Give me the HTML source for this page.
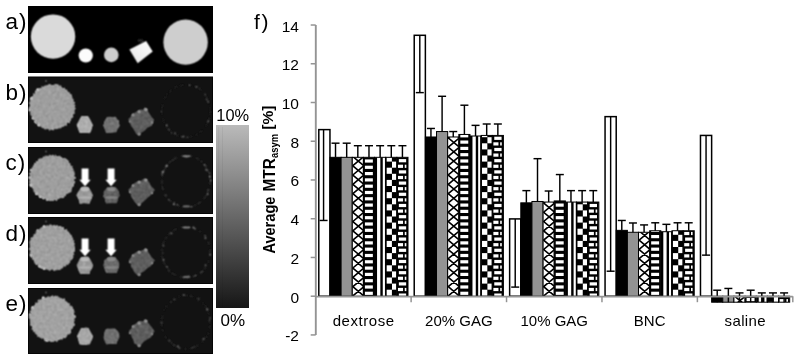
<!DOCTYPE html>
<html><head><meta charset="utf-8"><style>
html,body{margin:0;padding:0;background:#fff;}
body{width:800px;height:361px;overflow:hidden;position:relative;}
svg{position:absolute;left:0;top:0;will-change:transform;font-family:"Liberation Sans",sans-serif;}
</style></head><body>
<svg width="800" height="361" viewBox="0 0 800 361">
<defs>
<filter id="bl" x="-10%" y="-10%" width="120%" height="120%"><feConvolveMatrix order="3" kernelMatrix="1 2 1 2 4 2 1 2 1" divisor="16" edgeMode="none"/></filter><filter id="bl2" x="-20%" y="-20%" width="140%" height="140%"><feConvolveMatrix order="3" kernelMatrix="1 2 1 2 4 2 1 2 1" divisor="16" edgeMode="none"/></filter><filter id="bla" x="-10%" y="-10%" width="120%" height="120%"><feConvolveMatrix order="3" kernelMatrix="1 2 1 2 4 2 1 2 1" divisor="16" edgeMode="none"/></filter>
<linearGradient id="trg" x1="0" y1="1" x2="1" y2="0"><stop offset="0" stop-color="#e6e6e6"/><stop offset="1" stop-color="#ffffff"/></linearGradient><linearGradient id="cbg" x1="0" y1="0" x2="0" y2="1">
<stop offset="0" stop-color="#bababa"/><stop offset="1" stop-color="#161616"/>
</linearGradient>
<filter id="tex" x="-5%" y="-5%" width="110%" height="110%" color-interpolation-filters="sRGB">
<feTurbulence type="fractalNoise" baseFrequency="0.35" numOctaves="2" seed="5" result="n"/>
<feColorMatrix in="n" type="matrix" values="0.33 0.33 0.33 0 0 0.33 0.33 0.33 0 0 0.33 0.33 0.33 0 0 0 0 0 0 1" result="g"/>
<feComposite in="SourceGraphic" in2="g" operator="arithmetic" k1="0" k2="1" k3="0.3" k4="-0.15" result="m"/>
<feComposite in="m" in2="SourceGraphic" operator="in" result="c"/>
<feConvolveMatrix in="c" order="3" kernelMatrix="1 2 1 2 4 2 1 2 1" divisor="16" edgeMode="none"/>
</filter>
</defs>
<rect x="28" y="6" width="185" height="67" fill="#000"/><g filter="url(#bla)"><circle cx="53.05" cy="36.6" r="22.2" fill="#dadada"/><circle cx="85.75" cy="55.5" r="7.1" fill="#fcfcfc"/><circle cx="111.3" cy="54.9" r="7.3" fill="#cccccc"/><ellipse cx="140.5" cy="40.5" rx="3" ry="1.2" fill="#2a2a2a"/><polygon points="129.4,49.4 146.1,41.1 152.7,51.6 137.7,63.3" fill="url(#trg)"/><ellipse cx="185.6" cy="42.15" rx="22.2" ry="22.7" fill="#cecece"/></g><rect x="28" y="76.5" width="185" height="66.5" fill="#050505"/><rect x="29" y="77.5" width="183" height="64.5" fill="#121212"/><g filter="url(#bl)"><ellipse cx="186" cy="110.9" rx="24.2" ry="26.3" fill="none" stroke="#1b1b1b" stroke-width="1.5" stroke-dasharray="3.5 3 3.52 2.22 4.35 4.38 3.79 2.06 3.32 2.65 2.37 4.83 4.99 1.66 4.51 3.61 2.84 2.49 3.86 3.1 3.9 3.82 1.97 4.19 4.94 4.89 3.65 1.65 1.51 1.97"/><circle cx="207.97" cy="101.62" r="1.06" fill="#474747"/><circle cx="187.5" cy="137.24" r="0.86" fill="#4c4c4c"/><circle cx="208.14" cy="121.31" r="0.9" fill="#666666"/><circle cx="199.61" cy="88.28" r="0.62" fill="#3f3f3f"/><circle cx="161.43" cy="111.47" r="0.64" fill="#5a5a5a"/><circle cx="206.58" cy="99.38" r="0.94" fill="#484848"/><circle cx="169.01" cy="129.56" r="1.18" fill="#373737"/><circle cx="189.45" cy="85.26" r="0.71" fill="#636363"/><circle cx="171.55" cy="132.9" r="0.75" fill="#4c4c4c"/><circle cx="182.26" cy="136.87" r="1.12" fill="#3b3b3b"/><circle cx="183.48" cy="136.38" r="0.99" fill="#5a5a5a"/><circle cx="196.58" cy="86.89" r="1.06" fill="#4e4e4e"/><circle cx="174.97" cy="133.35" r="1.03" fill="#525252"/><circle cx="174.41" cy="133.25" r="0.76" fill="#353535"/><circle cx="166.75" cy="125.16" r="0.9" fill="#676767"/><circle cx="205.15" cy="94.44" r="0.91" fill="#414141"/><circle cx="46" cy="81" r="1" fill="#555"/></g><g filter="url(#tex)"><polygon points="74.57,107.1 75.97,108.09 75.75,109.07 74.63,109.92 74.97,110.93 74.7,111.86 74.87,112.9 74.87,113.91 73.25,114.4 72.81,115.22 73.93,116.73 72.78,117.27 72.91,118.43 71.12,118.5 71.37,119.77 71.27,120.88 69.9,121.05 70.39,122.71 69.65,123.39 67.74,122.86 67.05,123.49 67.01,124.89 66.74,126.12 65.29,125.79 64.32,126.04 63.72,126.88 62.52,126.65 61.86,127.41 61.16,128.19 60.31,128.65 59.24,128.47 58.34,128.73 57.42,128.94 56.59,129.61 55.6,129.44 54.6,129.02 53.79,130.73 52.78,130.21 51.81,130.38 50.9,129.43 49.79,130.95 48.83,130.57 48.13,128.95 47.12,129.17 46,129.68 45.06,129.38 43.98,129.48 43.45,128.16 42.23,128.51 41.49,127.78 41,126.68 39.88,126.67 38.74,126.61 37.98,125.97 37.63,124.83 36.79,124.32 36.86,122.87 35.91,122.49 34.44,122.52 34.41,121.28 34.22,120.23 33.06,119.88 32.28,119.22 31.84,118.35 31.92,117.22 31.4,116.41 30.9,115.57 30.05,114.85 30.24,113.76 30.23,112.77 29.82,111.88 30.55,110.78 30.39,109.87 28.98,109.06 28.35,108.1 29.11,107.1 29.53,106.15 30.04,105.23 29.48,104.22 28.67,103.1 29.27,102.21 29.95,101.36 29.59,100.24 31.09,99.71 30.89,98.62 30.46,97.38 31.56,96.8 32.22,96.06 33.02,95.42 33.06,94.32 32.95,93.04 35.05,93.43 34.46,91.7 35.07,90.92 35.67,90.12 36.59,89.65 37.25,88.9 38.37,88.75 39.1,88.11 40.06,87.81 41.24,87.95 41.3,86.06 42.45,86.16 43.62,86.45 44.28,85.53 45.2,85.25 46.19,85.22 47.12,85.01 47.98,84.43 48.9,84.1 49.87,84 50.86,84.23 51.84,85.05 52.77,84.65 53.7,84.79 54.72,84.06 55.77,83.63 56.72,83.92 57.69,84.13 58.66,84.34 59.26,85.69 60.56,84.9 61.35,85.58 61.74,87.04 62.51,87.57 63.31,88.02 64.9,87.25 65.14,88.62 65.73,89.4 67.12,89.19 67.48,90.24 67.79,91.28 68.57,91.82 69.75,92.04 69.8,93.23 70.54,93.85 71.81,94.14 71.9,95.23 72.14,96.19 72.85,96.9 72.44,98.13 73.47,98.72 73.87,99.59 73.72,100.63 73.82,101.57 75.58,102.15 75,103.26 74.54,104.29 75.43,105.16 75.91,106.11" fill="#9e9e9e"/><polygon points="81.26,116.05 84.04,115.97 86.11,116.07 88.25,116.01 90.27,119.13 91.51,121.64 93.17,124.95 92.45,127.23 91.49,130.87 90.02,133.49 86.29,133.01 83.26,133.05 79.65,133.19 78.32,130.47 77.45,127.87 76.32,124.81 77.97,121.93 79.6,118.72" fill="#aeaeae"/><polygon points="106.83,116.65 110.01,116.48 112.47,116.73 115.75,116.51 116.64,117.69 117.37,119.2 118.97,120.36 119.4,121.99 119.22,123.33 120.1,125.39 118.93,127.86 117.19,130.2 116.5,132.59 113.39,132.79 109.29,133.15 105.8,133.24 105.06,130.54 103.97,128.09 102.85,125.33 103.66,123.82 103.86,122.13 104.28,121.02 105.17,119.51 106.1,118.08" fill="#727272"/><polygon points="128.01,119.03 130.42,116.92 132.07,113.43 135.23,112.26 138.18,110.29 140.64,109.31 142.34,109.44 143.7,109 144.81,106.72 147.48,109.38 148.24,111.5 151.49,116.4 154.35,119.66 153.1,122.81 151.84,125.91 147.53,127.64 144.5,131.09 140.79,133.28 139.04,135.68 136.06,133.91 134.48,131.23 132.97,128.51 130.85,125.9 129.8,122.68" fill="#5e5e5e"/></g><g filter="url(#bl)"><circle cx="133.1" cy="115.2" r="1.4" fill="#8e8e8e"/><circle cx="139.2" cy="111.8" r="1.6" fill="#969696"/><circle cx="145.9" cy="109.6" r="1.7" fill="#9a9a9a"/><circle cx="139.2" cy="134.1" r="1.6" fill="#8a8a8a"/><circle cx="152" cy="122.5" r="1.2" fill="#888"/><circle cx="130" cy="121.5" r="1.2" fill="#858585"/><circle cx="38.64" cy="125.1" r="1.3" fill="#c4c4c4"/><circle cx="32.69" cy="118.34" r="1.02" fill="#c4c4c4"/><circle cx="29.85" cy="109.69" r="1.2" fill="#c4c4c4"/><circle cx="29.92" cy="110.26" r="1.17" fill="#c4c4c4"/><circle cx="35.07" cy="121.72" r="1.05" fill="#c4c4c4"/><circle cx="31.62" cy="97.99" r="1.09" fill="#c4c4c4"/><circle cx="31.23" cy="98.92" r="1.37" fill="#c4c4c4"/><circle cx="37.74" cy="89.81" r="1.47" fill="#c4c4c4"/><circle cx="36.27" cy="123.03" r="1.04" fill="#c4c4c4"/></g><rect x="28" y="147" width="185" height="67" fill="#050505"/><rect x="29" y="148" width="183" height="65" fill="#121212"/><g filter="url(#bl)"><ellipse cx="186" cy="181.3" rx="24.2" ry="25.8" fill="none" stroke="#2a2a2a" stroke-width="1.5" stroke-dasharray="3.33 4.32 4.86 2.51 4.18 3.96 3.81 1.89 1.59 2.84 4.11 2.38 3.26 2.61 4.46 4.81 2.91 4.99 1.72 4.34 4.56 2.03 3.97 3.46 4.84 2.24 3.39 4.59 3.74 2.58"/><circle cx="207.6" cy="194.31" r="0.98" fill="#6c6c6c"/><circle cx="166.33" cy="166.07" r="1.09" fill="#646464"/><circle cx="206.17" cy="169.47" r="0.94" fill="#5f5f5f"/><circle cx="205.47" cy="165.59" r="1.18" fill="#363636"/><circle cx="168.7" cy="199.78" r="0.74" fill="#636363"/><circle cx="162.72" cy="172.04" r="1.17" fill="#737373"/><circle cx="207.59" cy="190.1" r="0.72" fill="#535353"/><circle cx="166.88" cy="165.72" r="1.14" fill="#767676"/><circle cx="185.97" cy="206.44" r="0.79" fill="#5c5c5c"/><circle cx="173.8" cy="204.25" r="1.07" fill="#7a7a7a"/><circle cx="174.23" cy="202.48" r="0.61" fill="#5c5c5c"/><circle cx="185.2" cy="155.83" r="1.04" fill="#363636"/><circle cx="177.51" cy="204.24" r="0.61" fill="#6e6e6e"/><circle cx="163.63" cy="171.13" r="0.89" fill="#636363"/><circle cx="209.73" cy="173.33" r="0.71" fill="#626262"/><circle cx="210.84" cy="180.53" r="0.67" fill="#868686"/><circle cx="191.76" cy="206.82" r="0.78" fill="#747474"/><circle cx="204.16" cy="165.23" r="0.63" fill="#585858"/><circle cx="206.71" cy="170.22" r="1.1" fill="#575757"/><circle cx="172.94" cy="160.12" r="0.93" fill="#393939"/><circle cx="162.02" cy="174.21" r="0.92" fill="#4c4c4c"/><circle cx="183.77" cy="206.03" r="0.63" fill="#555555"/><circle cx="204.36" cy="164.62" r="0.73" fill="#6e6e6e"/><circle cx="165.74" cy="195.41" r="1.18" fill="#393939"/><circle cx="186.26" cy="156.32" r="1.09" fill="#585858"/><circle cx="209.71" cy="176.44" r="0.94" fill="#797979"/><ellipse cx="186.5" cy="156.3" rx="4" ry="1.1" fill="#808080"/><ellipse cx="186.5" cy="206.3" rx="3.5" ry="1.1" fill="#6a6a6a"/><circle cx="46" cy="151.5" r="1" fill="#555"/></g><g filter="url(#tex)"><polygon points="76.21,177.6 76.17,178.6 74.34,179.45 74.29,180.38 75.64,181.55 75.26,182.48 74.91,183.4 73.95,184.14 74.22,185.23 73.88,186.15 73.46,187.02 72.29,187.52 72.33,188.61 71.79,189.4 71.83,190.57 71.71,191.7 71.03,192.44 69.78,192.69 68.99,193.27 68.07,193.7 67.07,194 66.36,194.59 66.16,195.86 65.22,196.19 64.5,196.82 64.19,198.2 62.98,198.03 62.14,198.52 61.01,198.32 59.99,198.26 59.3,199.14 58.29,199.05 57.56,200.01 56.8,201.17 55.71,200.7 54.64,199.84 53.79,201.34 52.79,201.19 51.81,201.06 50.8,201.37 49.84,201 48.86,200.93 48.05,199.91 46.83,200.93 45.87,200.64 45.4,198.83 44.11,199.63 43.22,199.2 42.54,198.34 41.62,198.04 40.81,197.5 39.52,197.74 39.17,196.49 37.99,196.45 37.83,195.1 36.4,195.26 35.65,194.6 35.59,193.29 34.79,192.72 33.62,192.41 33.33,191.38 33.17,190.31 33.1,189.23 32.45,188.51 31.34,188 31.9,186.68 30.16,186.37 31.02,185.01 29.49,184.49 30.39,183.23 28.91,182.57 29.22,181.5 29.47,180.48 29.35,179.53 29.02,178.58 29.12,177.6 29.7,176.65 29.96,175.72 29.46,174.71 28.77,173.62 29.56,172.77 30.85,172.09 29.67,170.77 30.15,169.89 30.16,168.83 31.85,168.5 31.26,167.16 32.92,166.94 32.37,165.53 33.52,165.12 34.13,164.4 33.69,162.85 35.49,163.09 35.5,161.82 35.71,160.66 37.25,160.89 38.01,160.32 37.93,158.67 39.26,158.84 39.74,157.81 41.27,158.49 41.77,157.46 42.79,157.38 43.25,156.08 44.57,156.82 44.91,154.86 46.37,156.36 46.94,154.76 48.17,155.95 49.01,155.33 49.83,154.1 50.9,155.33 51.83,155.24 52.79,154.22 53.73,154.87 54.61,155.63 55.8,153.88 56.48,155.69 57.34,156.11 58.4,155.75 59.48,155.51 60.49,155.59 60.91,157.11 61.95,157.08 62.52,158.05 63.75,157.77 64.91,157.73 65.7,158.32 66.69,158.64 67.29,159.48 68.18,159.97 68.68,160.87 69.03,161.89 69.3,162.93 70.58,163.11 70.61,164.3 70.79,165.31 71.88,165.74 73.11,166.16 72.23,167.7 73.47,168.18 73.49,169.21 74.05,170.03 73.64,171.16 75.47,171.65 74.33,172.92 75.19,173.73 74.96,174.74 74.26,175.76 75.4,176.63" fill="#9e9e9e"/><polygon points="81.28,186.63 83.83,186.21 85.71,186.4 88.32,186.75 90.32,189.48 91.88,192.43 93.22,195.15 92.03,198.42 90.75,201.26 89.56,204.05 86.44,203.82 83.51,203.51 79.55,204.23 78.71,200.67 77.89,198.46 75.99,195.14 77.67,192.15 79.73,189.13" fill="#999999"/><polygon points="107.47,186.71 109.52,187.4 112.45,186.7 115.62,186.88 116.94,188.19 118.13,189.66 118.98,191.55 119.31,193.04 119.6,193.84 120.01,195.77 118.48,198.02 117.85,200.9 116.85,203.62 113.4,203.45 109.73,203.49 105.91,203.77 104.95,201.22 104.46,198.72 102.81,196.46 103.5,194.28 103.27,192.89 103.53,191.54 104.97,189.81 105.96,188.53" fill="#626262"/><polygon points="128.09,189.66 130.31,187.68 132.5,184.66 135.07,182.46 139.01,180.53 140.98,180.71 142.15,179.4 144.11,178.45 144.71,178.08 147.36,180.4 149.14,181.84 151.15,185.89 155.27,190.03 152.59,192.67 150.76,195.45 147.52,198.1 143.87,201.51 140.95,203.88 138.89,206.08 136.49,204.37 134.3,201.78 132.6,199.04 131.28,197.18 129.91,192.78" fill="#5e5e5e"/></g><g filter="url(#bl)"><ellipse cx="84.9" cy="189.3" rx="4.2" ry="2" fill="#bdbdbd"/><ellipse cx="84.9" cy="197.5" rx="6.5" ry="1.3" fill="#b0b0b0"/><ellipse cx="111.3" cy="189.3" rx="4.2" ry="2" fill="#8c8c8c"/><ellipse cx="111.3" cy="197.5" rx="6.5" ry="1.3" fill="#858585"/><circle cx="133.1" cy="185.7" r="1.4" fill="#8e8e8e"/><circle cx="139.2" cy="182.3" r="1.6" fill="#969696"/><circle cx="145.9" cy="180.1" r="1.7" fill="#9a9a9a"/><circle cx="139.2" cy="204.6" r="1.6" fill="#8a8a8a"/><circle cx="152" cy="193" r="1.2" fill="#888"/><circle cx="130" cy="192" r="1.2" fill="#858585"/><circle cx="47.66" cy="199.72" r="0.97" fill="#c4c4c4"/><circle cx="31.21" cy="185.73" r="1.31" fill="#c4c4c4"/><circle cx="40.73" cy="197.01" r="0.97" fill="#c4c4c4"/><circle cx="36.38" cy="193.64" r="1.35" fill="#c4c4c4"/><circle cx="40.29" cy="196.74" r="1.34" fill="#c4c4c4"/><circle cx="30.97" cy="170.12" r="0.98" fill="#c4c4c4"/><circle cx="29.7" cy="177.46" r="1.17" fill="#c4c4c4"/><circle cx="30.82" cy="184.63" r="1.5" fill="#c4c4c4"/><circle cx="43.12" cy="198.25" r="0.91" fill="#c4c4c4"/></g><polygon points="81.6,168.5 88.5,168.5 88.5,179.7 90.75,179.7 85.05,186.2 79.35,179.7 81.6,179.7" fill="#fff" filter="url(#bl2)"/><polygon points="107.6,168.5 114.5,168.5 114.5,179.7 116.75,179.7 111.05,186.2 105.35,179.7 107.6,179.7" fill="#fff" filter="url(#bl2)"/><rect x="28" y="217" width="185" height="67" fill="#050505"/><rect x="29" y="218" width="183" height="65" fill="#121212"/><g filter="url(#bl)"><ellipse cx="186" cy="252.2" rx="24.2" ry="25.5" fill="none" stroke="#262626" stroke-width="1.5" stroke-dasharray="3.99 4.44 2.14 4.99 2.18 3.85 1.82 4.15 2.03 3.97 4.04 4.18 3.04 4.53 4.96 1.9 3.31 4.85 4.09 3.05 2.57 4.84 1.8 4.16 4.45 2.05 2.64 2.57 3.4 2.78"/><circle cx="205.45" cy="236.03" r="0.8" fill="#585858"/><circle cx="184.96" cy="227.36" r="1" fill="#4f4f4f"/><circle cx="193.46" cy="227.53" r="1.12" fill="#6e6e6e"/><circle cx="183.49" cy="277.8" r="0.66" fill="#494949"/><circle cx="162.73" cy="253.06" r="0.79" fill="#424242"/><circle cx="193.76" cy="276.31" r="0.89" fill="#404040"/><circle cx="184.59" cy="277.42" r="0.92" fill="#4c4c4c"/><circle cx="187.12" cy="277.68" r="0.79" fill="#515151"/><circle cx="163.38" cy="245.74" r="1.08" fill="#4a4a4a"/><circle cx="166.36" cy="266.55" r="0.75" fill="#595959"/><circle cx="195.5" cy="275.54" r="0.8" fill="#676767"/><circle cx="204.66" cy="235.08" r="0.63" fill="#343434"/><circle cx="163.52" cy="259.75" r="1.07" fill="#696969"/><circle cx="205.57" cy="265.22" r="1.03" fill="#595959"/><circle cx="195.03" cy="228.73" r="0.85" fill="#737373"/><circle cx="167.39" cy="267.18" r="0.82" fill="#565656"/><circle cx="200.88" cy="272.62" r="1.08" fill="#383838"/><circle cx="171.45" cy="233.4" r="1.15" fill="#515151"/><circle cx="210.13" cy="254.66" r="0.98" fill="#636363"/><circle cx="205.45" cy="238.29" r="1.01" fill="#606060"/><circle cx="168.95" cy="271" r="0.84" fill="#313131"/><circle cx="209.71" cy="255.26" r="0.7" fill="#383838"/><circle cx="188.67" cy="276.52" r="1.17" fill="#4b4b4b"/><circle cx="202.41" cy="271.5" r="1.09" fill="#3e3e3e"/><ellipse cx="186.5" cy="227.5" rx="4" ry="1.1" fill="#808080"/><ellipse cx="186.5" cy="276.9" rx="3.5" ry="1.1" fill="#6a6a6a"/><circle cx="46" cy="221.5" r="1" fill="#555"/></g><g filter="url(#tex)"><polygon points="74.78,247.6 75.37,248.57 74.96,249.5 75.32,250.51 75.23,251.48 73.95,252.2 73.63,253.08 74.96,254.44 73.57,255.01 73.19,255.87 74.22,257.36 72.85,257.8 73.04,259 71.93,259.49 71.69,260.48 70.34,260.71 70.54,262.05 70.27,263.11 69.1,263.38 68.73,264.38 67.92,264.95 66.4,264.65 66.52,266.33 65.53,266.64 64.41,266.68 63.33,266.71 63.29,268.63 62.07,268.36 61.38,269.21 60.58,269.87 59.54,269.88 58.71,270.56 57.5,269.79 56.72,270.78 55.64,270.24 54.8,271.34 53.79,271.31 52.76,269.79 51.83,269.87 50.89,269.99 49.8,271.4 48.96,270.23 47.94,270.44 47.14,269.6 46.11,269.77 45.26,269.26 44.39,268.88 43.32,268.96 42.44,268.56 41.27,268.7 40.62,267.83 39.52,267.74 38.77,267.07 37.8,266.7 37.42,265.59 37.36,264.19 35.7,264.55 34.86,263.98 34.28,263.16 34.17,261.97 33.35,261.37 33.62,260.01 32.06,259.86 32.02,258.75 32.08,257.64 32.09,256.6 30.26,256.33 29.65,255.49 31.07,254.01 29.44,253.47 29.98,252.34 30.31,251.32 29.89,250.43 28.84,249.57 28.58,248.59 30.21,247.6 29.09,246.63 30.29,245.75 29.05,244.66 29.96,243.82 29.06,242.66 29.09,241.64 30.27,240.95 29.64,239.71 31.27,239.27 32.06,238.59 31.52,237.28 32.97,236.97 33.14,236 33.3,234.97 33.51,233.95 34.81,233.74 35.58,233.17 35,231.35 36.47,231.43 36.3,229.83 37.13,229.27 38.54,229.47 39.22,228.78 39.95,228.15 40.66,227.43 41.56,227.05 42.46,226.68 43.29,226.18 43.98,225.22 45.19,225.71 46.15,225.58 46.95,224.78 48.09,225.52 49,225.24 49.8,223.78 50.85,224.6 51.82,224.51 52.76,225.58 53.73,224.81 54.72,224.57 55.52,225.8 56.65,224.78 57.61,224.95 58.25,226.29 59.49,225.48 60.29,226.11 61.35,226.07 61.97,227.06 63.15,226.85 64.04,227.27 64.11,228.99 64.92,229.44 66.42,229 67.55,229.16 67.36,230.88 68.33,231.23 69.2,231.73 69.44,232.81 70.11,233.48 70.6,234.3 71.24,235.02 72.14,235.59 72.11,236.71 72.68,237.48 73.81,238.02 72.81,239.48 74.15,239.99 74.77,240.82 74.21,241.97 74.25,242.93 75.58,243.66 74.6,244.78 74.6,245.73 75.15,246.64" fill="#a0a0a0"/><polygon points="81.11,256.65 83.85,256.78 85.85,256.28 88.22,256.28 90.35,259.1 91.86,262.07 93.34,265.15 92.57,268.19 90.71,270.82 89.62,274.2 86.81,274.14 83.49,274.1 80.26,274.14 78.51,271.28 77.49,268.3 76.35,265.14 77.86,262.24 79.48,259.09" fill="#9a9a9a"/><polygon points="107.44,257.36 110.21,256.67 112.77,256.94 115.52,256.7 116.39,258.36 117.54,259.76 118.52,260.87 119.33,262.64 119.44,264.39 119.59,265.35 118.86,268.34 117.69,270.93 116.88,273.29 113.24,273.29 109.62,273.53 105.95,273.07 105.08,271.17 104.17,268.56 103.21,265.95 103.11,264.39 103.89,262.62 103.59,260.88 104.6,259.62 106.09,258.66" fill="#6a6a6a"/><polygon points="128.68,260.16 130.93,256.93 132.68,254.87 136.04,252.07 138.78,250.64 140.45,250.81 142.33,249.93 144.33,249.06 145.06,247.57 146.95,249.46 148.73,252.48 151.56,256.77 155.21,260.57 153.22,262.79 150.77,266.58 147.44,268.16 144.58,271.3 140.9,273.29 138.29,275.73 135.81,274.08 133.97,271.97 132.42,268.88 130.84,267.05 130.3,263.37" fill="#5e5e5e"/></g><g filter="url(#bl)"><ellipse cx="84.9" cy="259.3" rx="4.2" ry="2" fill="#bdbdbd"/><ellipse cx="84.9" cy="267.5" rx="6.5" ry="1.3" fill="#b0b0b0"/><ellipse cx="111.3" cy="259.3" rx="4.2" ry="2" fill="#8c8c8c"/><ellipse cx="111.3" cy="267.5" rx="6.5" ry="1.3" fill="#858585"/><circle cx="133.1" cy="255.7" r="1.4" fill="#8e8e8e"/><circle cx="139.2" cy="252.3" r="1.6" fill="#969696"/><circle cx="145.9" cy="250.1" r="1.7" fill="#9a9a9a"/><circle cx="139.2" cy="274.6" r="1.6" fill="#8a8a8a"/><circle cx="152" cy="263" r="1.2" fill="#888"/><circle cx="130" cy="262" r="1.2" fill="#858585"/><circle cx="30.9" cy="254.85" r="1.23" fill="#c4c4c4"/><circle cx="37.56" cy="230.46" r="1.01" fill="#c4c4c4"/><circle cx="36.66" cy="263.92" r="0.92" fill="#c4c4c4"/><circle cx="41.87" cy="267.65" r="0.91" fill="#c4c4c4"/><circle cx="39.83" cy="266.45" r="1.21" fill="#c4c4c4"/><circle cx="43.99" cy="226.58" r="1.32" fill="#c4c4c4"/><circle cx="31.53" cy="256.52" r="1.14" fill="#c4c4c4"/><circle cx="31.61" cy="238.52" r="1.1" fill="#c4c4c4"/><circle cx="44.19" cy="268.69" r="1.4" fill="#c4c4c4"/></g><polygon points="81.6,238.5 88.5,238.5 88.5,249.7 90.75,249.7 85.05,256.2 79.35,249.7 81.6,249.7" fill="#fff" filter="url(#bl2)"/><polygon points="107.6,238.5 114.5,238.5 114.5,249.7 116.75,249.7 111.05,256.2 105.35,249.7 107.6,249.7" fill="#fff" filter="url(#bl2)"/><rect x="28" y="288" width="185" height="66" fill="#050505"/><rect x="29" y="289" width="183" height="64" fill="#121212"/><g filter="url(#bl)"><ellipse cx="186" cy="322.2" rx="24.2" ry="26.8" fill="none" stroke="#1f1f1f" stroke-width="1.5" stroke-dasharray="1.54 1.89 2.87 3.89 1.99 1.89 2.31 4.15 2.02 4.09 3.82 1.98 3.37 3.07 2.94 4.99 1.83 1.57 4.79 2.91 2.19 2.66 2.78 4.84 2.24 2.26 3.55 3.42 4.84 4.44"/><circle cx="171.61" cy="342.61" r="0.62" fill="#484848"/><circle cx="183.69" cy="295" r="1.09" fill="#595959"/><circle cx="192.25" cy="347.66" r="0.72" fill="#474747"/><circle cx="171.18" cy="302.13" r="0.76" fill="#323232"/><circle cx="179.51" cy="347.9" r="0.99" fill="#4e4e4e"/><circle cx="198.81" cy="298.62" r="1.07" fill="#363636"/><circle cx="177.92" cy="346.44" r="1.16" fill="#575757"/><circle cx="198.41" cy="300.02" r="0.72" fill="#3b3b3b"/><circle cx="207.24" cy="309.46" r="1.17" fill="#5c5c5c"/><circle cx="174.6" cy="299.39" r="0.99" fill="#434343"/><circle cx="209.34" cy="320.84" r="0.72" fill="#4d4d4d"/><circle cx="174.04" cy="344.95" r="0.94" fill="#333333"/><circle cx="203.09" cy="339.54" r="0.67" fill="#585858"/><circle cx="194.13" cy="346.78" r="0.89" fill="#393939"/><circle cx="161.49" cy="322.52" r="1.12" fill="#414141"/><circle cx="209.78" cy="319.12" r="0.62" fill="#555555"/><circle cx="203.73" cy="338.87" r="1.02" fill="#565656"/><circle cx="210.13" cy="317.65" r="0.89" fill="#404040"/><circle cx="190.72" cy="296.25" r="0.61" fill="#3f3f3f"/><circle cx="169.34" cy="340.61" r="1.2" fill="#3b3b3b"/><circle cx="46" cy="292.5" r="1" fill="#555"/></g><g filter="url(#tex)"><polygon points="74.77,318.6 74.49,319.53 75.01,320.51 74.43,321.4 74.12,322.29 74.6,323.34 75.39,324.53 74.89,325.42 74.52,326.34 73.17,326.86 73.38,327.98 72.5,328.63 71.88,329.36 71.3,330.11 70.98,331.01 71.6,332.62 70.84,333.3 70.18,334.03 69.5,334.76 67.96,334.59 67.44,335.41 67.12,336.52 66.49,337.29 65.83,338.07 65.03,338.66 63.39,337.8 63.05,339.17 62.24,339.72 61.22,339.81 60.09,339.55 59.39,340.42 58.26,339.96 57.75,341.84 56.75,341.91 55.67,341.45 54.66,341.08 53.8,342.37 52.78,341.74 51.8,342.36 50.81,342.25 49.89,341.49 48.97,341.18 47.95,341.39 47.08,340.86 46.3,340.1 45.31,340.1 44.06,340.74 43.74,338.96 42.89,338.59 41.53,339.21 41.02,338.14 39.94,338.08 39.21,337.44 38.58,336.67 37.01,337.09 37.32,335.24 36.33,334.91 35.97,333.94 34.69,333.8 34.63,332.61 33.93,331.95 32.73,331.6 32.93,330.33 32.04,329.74 30.97,329.19 32.02,327.63 31.73,326.74 31.09,325.99 29.77,325.4 29.8,324.38 30.32,323.27 29.96,322.38 30.12,321.4 29.46,320.52 30.23,319.52 28.91,318.6 28.53,317.6 28.47,316.6 29.02,315.66 28.72,314.61 30.75,314.02 30.43,312.99 29.39,311.68 30.06,310.86 31.08,310.2 30.48,308.88 31.48,308.27 31.59,307.21 32.98,306.9 33.66,306.21 33.78,305.15 34.84,304.77 35.07,303.73 34.86,302.22 36.44,302.41 37.57,302.24 38.22,301.58 38.79,300.81 38.85,299.25 40.12,299.41 41.01,299.04 42.02,298.93 42.1,296.92 43.45,297.54 44.49,297.59 45.46,297.56 46.35,297.3 47.2,296.85 47.92,295.66 49.04,296.54 49.99,296.64 50.86,295.66 51.83,296.11 52.8,294.61 53.7,296.4 54.71,295.67 55.74,295.31 56.58,296.19 57.77,295.26 58.47,296.49 59.25,297.22 60.25,297.21 60.85,298.25 62.03,297.93 62.72,298.66 64.19,298.01 64.98,298.62 65.42,299.72 65.64,301.03 66.65,301.26 67.35,301.89 67.98,302.58 68.67,303.22 70.27,303.09 69.76,304.76 70.18,305.61 72.17,305.4 72.09,306.62 73.31,307.05 72.73,308.46 74.04,308.92 73.97,310.02 74.57,310.84 74.79,311.81 74.57,312.88 74,313.99 74.41,314.86 75.86,315.62 76.02,316.61 76.13,317.6" fill="#a2a2a2"/><polygon points="80.99,327.66 83.82,327.85 85.92,327.3 88.69,327.63 90.01,330.55 91.75,333.52 93.19,335.98 92.62,338.99 90.91,342.24 90.01,344.62 86.61,345.03 82.97,345.02 79.6,344.77 78.37,341.76 77.88,339.02 76.69,336.15 78.05,333.6 79.78,330.09" fill="#a8a8a8"/><polygon points="107.27,328.27 109.65,328.4 112.46,328.14 115.17,328.21 116.35,329.57 117.95,331.01 118.85,332.49 119.56,333.39 119.45,335.57 119.89,336.66 118.48,339.63 117.23,342.04 116.77,344.13 112.89,344.24 109.6,344.29 106.41,344.74 104.95,342.32 103.76,339.28 103.23,337.44 103.62,335.93 103.92,333.68 104.09,332.54 104.64,330.8 105.76,329.11" fill="#707070"/><polygon points="128.63,331.1 130.96,328.68 132.96,325.24 136.09,323.36 138.37,321.01 140.46,320.84 142.03,321.13 144.13,320.2 144.8,318.27 146.66,321.06 149.01,323.56 152.17,327.46 154.86,331.25 152.78,333.9 151.34,337.13 147.79,339.37 144.01,341.7 141.73,344.6 138.9,347.37 136.14,344.59 133.94,343.59 133.15,340.24 131.73,337.41 130.44,333.81" fill="#5e5e5e"/></g><g filter="url(#bl)"><circle cx="133.1" cy="326.7" r="1.4" fill="#8e8e8e"/><circle cx="139.2" cy="323.3" r="1.6" fill="#969696"/><circle cx="145.9" cy="321.1" r="1.7" fill="#9a9a9a"/><circle cx="139.2" cy="345.6" r="1.6" fill="#8a8a8a"/><circle cx="152" cy="334" r="1.2" fill="#888"/><circle cx="130" cy="333" r="1.2" fill="#858585"/><circle cx="45.92" cy="340.28" r="1.25" fill="#c4c4c4"/><circle cx="47.26" cy="340.63" r="1.21" fill="#c4c4c4"/><circle cx="43.29" cy="297.87" r="1.07" fill="#c4c4c4"/><circle cx="43.16" cy="297.93" r="1.28" fill="#c4c4c4"/><circle cx="38.57" cy="300.65" r="0.91" fill="#c4c4c4"/><circle cx="32.8" cy="307.18" r="1.21" fill="#c4c4c4"/><circle cx="30.09" cy="314.42" r="1.13" fill="#c4c4c4"/><circle cx="43.3" cy="297.87" r="1.29" fill="#c4c4c4"/><circle cx="32.5" cy="307.7" r="1.31" fill="#c4c4c4"/></g>
<rect x="216" y="125" width="33" height="183" fill="url(#cbg)"/><rect x="218.3" y="127" width="0.8" height="180" fill="#000" opacity="0.06"/><rect x="222.2" y="127" width="0.8" height="180" fill="#000" opacity="0.06"/>
<text x="5.6" y="29.4" font-size="22.5" letter-spacing="0.8">a)</text><text x="5.6" y="99.9" font-size="22.5" letter-spacing="0.8">b)</text><text x="5.6" y="170.4" font-size="22.5" letter-spacing="0.8">c)</text><text x="5.6" y="240.6" font-size="22.5" letter-spacing="0.8">d)</text><text x="5.6" y="310.8" font-size="22.5" letter-spacing="0.8">e)</text><text x="216.3" y="120.7" font-size="16.4">10%</text><text x="220.5" y="326.2" font-size="17">0%</text>
<rect x="318.8" y="129.62" width="11.15" height="166.58" fill="#fff" stroke="#000" stroke-width="1.5"/><line x1="323.57" y1="129.62" x2="323.57" y2="220.46" stroke="#000" stroke-width="1.45"/><line x1="319.57" y1="220.46" x2="327.57" y2="220.46" stroke="#000" stroke-width="1.45"/><rect x="329.95" y="157.32" width="11.15" height="138.88" fill="#000" stroke="#000" stroke-width="1"/><line x1="335.52" y1="157.32" x2="335.52" y2="143.18" stroke="#000" stroke-width="1.45"/><line x1="331.52" y1="143.18" x2="339.52" y2="143.18" stroke="#000" stroke-width="1.45"/><rect x="341.1" y="157.32" width="11.15" height="138.88" fill="#939393" stroke="#000" stroke-width="1"/><line x1="346.68" y1="157.32" x2="346.68" y2="143.18" stroke="#000" stroke-width="1.45"/><line x1="342.68" y1="143.18" x2="350.68" y2="143.18" stroke="#000" stroke-width="1.45"/><clipPath id="c03"><rect x="352.25" y="157.32" width="11.15" height="138.88"/></clipPath><g clip-path="url(#c03)"><rect x="352.25" y="157.32" width="11.15" height="138.88" fill="#fff"/><path d="M352.25 137.43L363.4 146.73M352.25 147.57L363.4 138.27M352.25 146.73L363.4 156.03M352.25 156.87L363.4 147.57M352.25 156.03L363.4 165.33M352.25 166.17L363.4 156.87M352.25 165.33L363.4 174.63M352.25 175.47L363.4 166.17M352.25 174.63L363.4 183.93M352.25 184.77L363.4 175.47M352.25 183.93L363.4 193.23M352.25 194.07L363.4 184.77M352.25 193.23L363.4 202.53M352.25 203.37L363.4 194.07M352.25 202.53L363.4 211.83M352.25 212.67L363.4 203.37M352.25 211.83L363.4 221.13M352.25 221.97L363.4 212.67M352.25 221.13L363.4 230.43M352.25 231.27L363.4 221.97M352.25 230.43L363.4 239.73M352.25 240.57L363.4 231.27M352.25 239.73L363.4 249.03M352.25 249.87L363.4 240.57M352.25 249.03L363.4 258.33M352.25 259.17L363.4 249.87M352.25 258.33L363.4 267.63M352.25 268.47L363.4 259.17M352.25 267.63L363.4 276.93M352.25 277.77L363.4 268.47M352.25 276.93L363.4 286.23M352.25 287.07L363.4 277.77M352.25 286.23L363.4 295.53M352.25 296.37L363.4 287.07M352.25 295.53L363.4 304.83M352.25 305.67L363.4 296.37" stroke="#000" stroke-width="1.6" fill="none"/></g><rect x="352.25" y="157.32" width="11.15" height="138.88" fill="none" stroke="#000" stroke-width="1"/><line x1="357.82" y1="157.32" x2="357.82" y2="145.7" stroke="#000" stroke-width="1.45"/><line x1="353.82" y1="145.7" x2="361.82" y2="145.7" stroke="#000" stroke-width="1.45"/><clipPath id="c04"><rect x="363.4" y="157.32" width="11.15" height="138.88"/></clipPath><g clip-path="url(#c04)"><rect x="363.4" y="157.32" width="11.15" height="138.88" fill="#000"/><rect x="364.9" y="146.8" width="7.95" height="3.2" fill="#fff"/><rect x="364.9" y="153.1" width="7.95" height="3.2" fill="#fff"/><rect x="364.9" y="159.4" width="7.95" height="3.2" fill="#fff"/><rect x="364.9" y="165.7" width="7.95" height="3.2" fill="#fff"/><rect x="364.9" y="172" width="7.95" height="3.2" fill="#fff"/><rect x="364.9" y="178.3" width="7.95" height="3.2" fill="#fff"/><rect x="364.9" y="184.6" width="7.95" height="3.2" fill="#fff"/><rect x="364.9" y="190.9" width="7.95" height="3.2" fill="#fff"/><rect x="364.9" y="197.2" width="7.95" height="3.2" fill="#fff"/><rect x="364.9" y="203.5" width="7.95" height="3.2" fill="#fff"/><rect x="364.9" y="209.8" width="7.95" height="3.2" fill="#fff"/><rect x="364.9" y="216.1" width="7.95" height="3.2" fill="#fff"/><rect x="364.9" y="222.4" width="7.95" height="3.2" fill="#fff"/><rect x="364.9" y="228.7" width="7.95" height="3.2" fill="#fff"/><rect x="364.9" y="235" width="7.95" height="3.2" fill="#fff"/><rect x="364.9" y="241.3" width="7.95" height="3.2" fill="#fff"/><rect x="364.9" y="247.6" width="7.95" height="3.2" fill="#fff"/><rect x="364.9" y="253.9" width="7.95" height="3.2" fill="#fff"/><rect x="364.9" y="260.2" width="7.95" height="3.2" fill="#fff"/><rect x="364.9" y="266.5" width="7.95" height="3.2" fill="#fff"/><rect x="364.9" y="272.8" width="7.95" height="3.2" fill="#fff"/><rect x="364.9" y="279.1" width="7.95" height="3.2" fill="#fff"/><rect x="364.9" y="285.4" width="7.95" height="3.2" fill="#fff"/><rect x="364.9" y="291.7" width="7.95" height="3.2" fill="#fff"/><rect x="364.9" y="298" width="7.95" height="3.2" fill="#fff"/></g><rect x="363.4" y="157.32" width="11.15" height="138.88" fill="none" stroke="#000" stroke-width="1"/><line x1="368.98" y1="157.32" x2="368.98" y2="145.7" stroke="#000" stroke-width="1.45"/><line x1="364.98" y1="145.7" x2="372.98" y2="145.7" stroke="#000" stroke-width="1.45"/><clipPath id="c05"><rect x="374.55" y="157.32" width="11.15" height="138.88"/></clipPath><g clip-path="url(#c05)"><rect x="374.55" y="157.32" width="11.15" height="138.88" fill="#fff"/><rect x="374.55" y="157.32" width="2.5" height="138.88" fill="#000"/><rect x="380.35" y="157.32" width="2.4" height="138.88" fill="#000"/><rect x="384.95" y="157.32" width="1" height="138.88" fill="#000"/></g><rect x="374.55" y="157.32" width="11.15" height="138.88" fill="none" stroke="#000" stroke-width="1"/><line x1="380.12" y1="157.32" x2="380.12" y2="145.7" stroke="#000" stroke-width="1.45"/><line x1="376.12" y1="145.7" x2="384.12" y2="145.7" stroke="#000" stroke-width="1.45"/><clipPath id="c06"><rect x="385.7" y="157.32" width="11.15" height="138.88"/></clipPath><g clip-path="url(#c06)"><rect x="385.7" y="157.32" width="11.15" height="138.88" fill="#000"/><rect x="392" y="149.4" width="5.3" height="6.1" fill="#fff"/><rect x="386.6" y="155.5" width="5.3" height="6.1" fill="#fff"/><rect x="392" y="161.6" width="5.3" height="6.1" fill="#fff"/><rect x="386.6" y="167.7" width="5.3" height="6.1" fill="#fff"/><rect x="392" y="173.8" width="5.3" height="6.1" fill="#fff"/><rect x="386.6" y="179.9" width="5.3" height="6.1" fill="#fff"/><rect x="392" y="186" width="5.3" height="6.1" fill="#fff"/><rect x="386.6" y="192.1" width="5.3" height="6.1" fill="#fff"/><rect x="392" y="198.2" width="5.3" height="6.1" fill="#fff"/><rect x="386.6" y="204.3" width="5.3" height="6.1" fill="#fff"/><rect x="392" y="210.4" width="5.3" height="6.1" fill="#fff"/><rect x="386.6" y="216.5" width="5.3" height="6.1" fill="#fff"/><rect x="392" y="222.6" width="5.3" height="6.1" fill="#fff"/><rect x="386.6" y="228.7" width="5.3" height="6.1" fill="#fff"/><rect x="392" y="234.8" width="5.3" height="6.1" fill="#fff"/><rect x="386.6" y="240.9" width="5.3" height="6.1" fill="#fff"/><rect x="392" y="247" width="5.3" height="6.1" fill="#fff"/><rect x="386.6" y="253.1" width="5.3" height="6.1" fill="#fff"/><rect x="392" y="259.2" width="5.3" height="6.1" fill="#fff"/><rect x="386.6" y="265.3" width="5.3" height="6.1" fill="#fff"/><rect x="392" y="271.4" width="5.3" height="6.1" fill="#fff"/><rect x="386.6" y="277.5" width="5.3" height="6.1" fill="#fff"/><rect x="392" y="283.6" width="5.3" height="6.1" fill="#fff"/><rect x="386.6" y="289.7" width="5.3" height="6.1" fill="#fff"/><rect x="392" y="295.8" width="5.3" height="6.1" fill="#fff"/><rect x="386.6" y="301.9" width="5.3" height="6.1" fill="#fff"/></g><rect x="385.7" y="157.32" width="11.15" height="138.88" fill="none" stroke="#000" stroke-width="1"/><line x1="391.28" y1="157.32" x2="391.28" y2="145.7" stroke="#000" stroke-width="1.45"/><line x1="387.28" y1="145.7" x2="395.28" y2="145.7" stroke="#000" stroke-width="1.45"/><clipPath id="c07"><rect x="396.85" y="157.32" width="11.15" height="138.88"/></clipPath><g clip-path="url(#c07)"><rect x="396.85" y="157.32" width="11.15" height="138.88" fill="#000"/><rect x="398.85" y="147.9" width="7.3" height="3.2" fill="#fff"/><rect x="397.95" y="153.5" width="5.1" height="3.2" fill="#fff"/><rect x="404.75" y="153.5" width="1.6" height="3.2" fill="#fff"/><rect x="398.85" y="159.1" width="7.3" height="3.2" fill="#fff"/><rect x="397.95" y="164.7" width="5.1" height="3.2" fill="#fff"/><rect x="404.75" y="164.7" width="1.6" height="3.2" fill="#fff"/><rect x="398.85" y="170.3" width="7.3" height="3.2" fill="#fff"/><rect x="397.95" y="175.9" width="5.1" height="3.2" fill="#fff"/><rect x="404.75" y="175.9" width="1.6" height="3.2" fill="#fff"/><rect x="398.85" y="181.5" width="7.3" height="3.2" fill="#fff"/><rect x="397.95" y="187.1" width="5.1" height="3.2" fill="#fff"/><rect x="404.75" y="187.1" width="1.6" height="3.2" fill="#fff"/><rect x="398.85" y="192.7" width="7.3" height="3.2" fill="#fff"/><rect x="397.95" y="198.3" width="5.1" height="3.2" fill="#fff"/><rect x="404.75" y="198.3" width="1.6" height="3.2" fill="#fff"/><rect x="398.85" y="203.9" width="7.3" height="3.2" fill="#fff"/><rect x="397.95" y="209.5" width="5.1" height="3.2" fill="#fff"/><rect x="404.75" y="209.5" width="1.6" height="3.2" fill="#fff"/><rect x="398.85" y="215.1" width="7.3" height="3.2" fill="#fff"/><rect x="397.95" y="220.7" width="5.1" height="3.2" fill="#fff"/><rect x="404.75" y="220.7" width="1.6" height="3.2" fill="#fff"/><rect x="398.85" y="226.3" width="7.3" height="3.2" fill="#fff"/><rect x="397.95" y="231.9" width="5.1" height="3.2" fill="#fff"/><rect x="404.75" y="231.9" width="1.6" height="3.2" fill="#fff"/><rect x="398.85" y="237.5" width="7.3" height="3.2" fill="#fff"/><rect x="397.95" y="243.1" width="5.1" height="3.2" fill="#fff"/><rect x="404.75" y="243.1" width="1.6" height="3.2" fill="#fff"/><rect x="398.85" y="248.7" width="7.3" height="3.2" fill="#fff"/><rect x="397.95" y="254.3" width="5.1" height="3.2" fill="#fff"/><rect x="404.75" y="254.3" width="1.6" height="3.2" fill="#fff"/><rect x="398.85" y="259.9" width="7.3" height="3.2" fill="#fff"/><rect x="397.95" y="265.5" width="5.1" height="3.2" fill="#fff"/><rect x="404.75" y="265.5" width="1.6" height="3.2" fill="#fff"/><rect x="398.85" y="271.1" width="7.3" height="3.2" fill="#fff"/><rect x="397.95" y="276.7" width="5.1" height="3.2" fill="#fff"/><rect x="404.75" y="276.7" width="1.6" height="3.2" fill="#fff"/><rect x="398.85" y="282.3" width="7.3" height="3.2" fill="#fff"/><rect x="397.95" y="287.9" width="5.1" height="3.2" fill="#fff"/><rect x="404.75" y="287.9" width="1.6" height="3.2" fill="#fff"/><rect x="398.85" y="293.5" width="7.3" height="3.2" fill="#fff"/><rect x="397.95" y="299.1" width="5.1" height="3.2" fill="#fff"/><rect x="404.75" y="299.1" width="1.6" height="3.2" fill="#fff"/></g><rect x="396.85" y="157.32" width="11.15" height="138.88" fill="none" stroke="#000" stroke-width="1"/><line x1="402.43" y1="157.32" x2="402.43" y2="145.7" stroke="#000" stroke-width="1.45"/><line x1="398.43" y1="145.7" x2="406.43" y2="145.7" stroke="#000" stroke-width="1.45"/><rect x="414.22" y="35.29" width="11.15" height="260.91" fill="#fff" stroke="#000" stroke-width="1.5"/><line x1="419.8" y1="35.29" x2="419.8" y2="92.62" stroke="#000" stroke-width="1.45"/><line x1="415.8" y1="92.62" x2="423.8" y2="92.62" stroke="#000" stroke-width="1.45"/><rect x="425.37" y="136.98" width="11.15" height="159.22" fill="#000" stroke="#000" stroke-width="1"/><line x1="430.94" y1="136.98" x2="430.94" y2="128.46" stroke="#000" stroke-width="1.45"/><line x1="426.94" y1="128.46" x2="434.94" y2="128.46" stroke="#000" stroke-width="1.45"/><rect x="436.52" y="131.55" width="11.15" height="164.65" fill="#939393" stroke="#000" stroke-width="1"/><line x1="442.1" y1="131.55" x2="442.1" y2="96.3" stroke="#000" stroke-width="1.45"/><line x1="438.1" y1="96.3" x2="446.1" y2="96.3" stroke="#000" stroke-width="1.45"/><clipPath id="c13"><rect x="447.67" y="136.98" width="11.15" height="159.22"/></clipPath><g clip-path="url(#c13)"><rect x="447.67" y="136.98" width="11.15" height="159.22" fill="#fff"/><path d="M447.67 118.83L458.82 128.13M447.67 128.97L458.82 119.67M447.67 128.13L458.82 137.43M447.67 138.27L458.82 128.97M447.67 137.43L458.82 146.73M447.67 147.57L458.82 138.27M447.67 146.73L458.82 156.03M447.67 156.87L458.82 147.57M447.67 156.03L458.82 165.33M447.67 166.17L458.82 156.87M447.67 165.33L458.82 174.63M447.67 175.47L458.82 166.17M447.67 174.63L458.82 183.93M447.67 184.77L458.82 175.47M447.67 183.93L458.82 193.23M447.67 194.07L458.82 184.77M447.67 193.23L458.82 202.53M447.67 203.37L458.82 194.07M447.67 202.53L458.82 211.83M447.67 212.67L458.82 203.37M447.67 211.83L458.82 221.13M447.67 221.97L458.82 212.67M447.67 221.13L458.82 230.43M447.67 231.27L458.82 221.97M447.67 230.43L458.82 239.73M447.67 240.57L458.82 231.27M447.67 239.73L458.82 249.03M447.67 249.87L458.82 240.57M447.67 249.03L458.82 258.33M447.67 259.17L458.82 249.87M447.67 258.33L458.82 267.63M447.67 268.47L458.82 259.17M447.67 267.63L458.82 276.93M447.67 277.77L458.82 268.47M447.67 276.93L458.82 286.23M447.67 287.07L458.82 277.77M447.67 286.23L458.82 295.53M447.67 296.37L458.82 287.07M447.67 295.53L458.82 304.83M447.67 305.67L458.82 296.37" stroke="#000" stroke-width="1.6" fill="none"/></g><rect x="447.67" y="136.98" width="11.15" height="159.22" fill="none" stroke="#000" stroke-width="1"/><line x1="453.25" y1="136.98" x2="453.25" y2="131.55" stroke="#000" stroke-width="1.45"/><line x1="449.25" y1="131.55" x2="457.25" y2="131.55" stroke="#000" stroke-width="1.45"/><clipPath id="c14"><rect x="458.82" y="134.46" width="11.15" height="161.74"/></clipPath><g clip-path="url(#c14)"><rect x="458.82" y="134.46" width="11.15" height="161.74" fill="#000"/><rect x="460.32" y="127.9" width="7.95" height="3.2" fill="#fff"/><rect x="460.32" y="134.2" width="7.95" height="3.2" fill="#fff"/><rect x="460.32" y="140.5" width="7.95" height="3.2" fill="#fff"/><rect x="460.32" y="146.8" width="7.95" height="3.2" fill="#fff"/><rect x="460.32" y="153.1" width="7.95" height="3.2" fill="#fff"/><rect x="460.32" y="159.4" width="7.95" height="3.2" fill="#fff"/><rect x="460.32" y="165.7" width="7.95" height="3.2" fill="#fff"/><rect x="460.32" y="172" width="7.95" height="3.2" fill="#fff"/><rect x="460.32" y="178.3" width="7.95" height="3.2" fill="#fff"/><rect x="460.32" y="184.6" width="7.95" height="3.2" fill="#fff"/><rect x="460.32" y="190.9" width="7.95" height="3.2" fill="#fff"/><rect x="460.32" y="197.2" width="7.95" height="3.2" fill="#fff"/><rect x="460.32" y="203.5" width="7.95" height="3.2" fill="#fff"/><rect x="460.32" y="209.8" width="7.95" height="3.2" fill="#fff"/><rect x="460.32" y="216.1" width="7.95" height="3.2" fill="#fff"/><rect x="460.32" y="222.4" width="7.95" height="3.2" fill="#fff"/><rect x="460.32" y="228.7" width="7.95" height="3.2" fill="#fff"/><rect x="460.32" y="235" width="7.95" height="3.2" fill="#fff"/><rect x="460.32" y="241.3" width="7.95" height="3.2" fill="#fff"/><rect x="460.32" y="247.6" width="7.95" height="3.2" fill="#fff"/><rect x="460.32" y="253.9" width="7.95" height="3.2" fill="#fff"/><rect x="460.32" y="260.2" width="7.95" height="3.2" fill="#fff"/><rect x="460.32" y="266.5" width="7.95" height="3.2" fill="#fff"/><rect x="460.32" y="272.8" width="7.95" height="3.2" fill="#fff"/><rect x="460.32" y="279.1" width="7.95" height="3.2" fill="#fff"/><rect x="460.32" y="285.4" width="7.95" height="3.2" fill="#fff"/><rect x="460.32" y="291.7" width="7.95" height="3.2" fill="#fff"/><rect x="460.32" y="298" width="7.95" height="3.2" fill="#fff"/></g><rect x="458.82" y="134.46" width="11.15" height="161.74" fill="none" stroke="#000" stroke-width="1"/><line x1="464.4" y1="134.46" x2="464.4" y2="105.21" stroke="#000" stroke-width="1.45"/><line x1="460.4" y1="105.21" x2="468.4" y2="105.21" stroke="#000" stroke-width="1.45"/><clipPath id="c15"><rect x="469.97" y="136.01" width="11.15" height="160.19"/></clipPath><g clip-path="url(#c15)"><rect x="469.97" y="136.01" width="11.15" height="160.19" fill="#fff"/><rect x="469.97" y="136.01" width="2.5" height="160.19" fill="#000"/><rect x="475.77" y="136.01" width="2.4" height="160.19" fill="#000"/><rect x="480.37" y="136.01" width="1" height="160.19" fill="#000"/></g><rect x="469.97" y="136.01" width="11.15" height="160.19" fill="none" stroke="#000" stroke-width="1"/><line x1="475.55" y1="136.01" x2="475.55" y2="125.36" stroke="#000" stroke-width="1.45"/><line x1="471.55" y1="125.36" x2="479.55" y2="125.36" stroke="#000" stroke-width="1.45"/><clipPath id="c16"><rect x="481.12" y="135.43" width="11.15" height="160.77"/></clipPath><g clip-path="url(#c16)"><rect x="481.12" y="135.43" width="11.15" height="160.77" fill="#000"/><rect x="487.42" y="125" width="5.3" height="6.1" fill="#fff"/><rect x="482.02" y="131.1" width="5.3" height="6.1" fill="#fff"/><rect x="487.42" y="137.2" width="5.3" height="6.1" fill="#fff"/><rect x="482.02" y="143.3" width="5.3" height="6.1" fill="#fff"/><rect x="487.42" y="149.4" width="5.3" height="6.1" fill="#fff"/><rect x="482.02" y="155.5" width="5.3" height="6.1" fill="#fff"/><rect x="487.42" y="161.6" width="5.3" height="6.1" fill="#fff"/><rect x="482.02" y="167.7" width="5.3" height="6.1" fill="#fff"/><rect x="487.42" y="173.8" width="5.3" height="6.1" fill="#fff"/><rect x="482.02" y="179.9" width="5.3" height="6.1" fill="#fff"/><rect x="487.42" y="186" width="5.3" height="6.1" fill="#fff"/><rect x="482.02" y="192.1" width="5.3" height="6.1" fill="#fff"/><rect x="487.42" y="198.2" width="5.3" height="6.1" fill="#fff"/><rect x="482.02" y="204.3" width="5.3" height="6.1" fill="#fff"/><rect x="487.42" y="210.4" width="5.3" height="6.1" fill="#fff"/><rect x="482.02" y="216.5" width="5.3" height="6.1" fill="#fff"/><rect x="487.42" y="222.6" width="5.3" height="6.1" fill="#fff"/><rect x="482.02" y="228.7" width="5.3" height="6.1" fill="#fff"/><rect x="487.42" y="234.8" width="5.3" height="6.1" fill="#fff"/><rect x="482.02" y="240.9" width="5.3" height="6.1" fill="#fff"/><rect x="487.42" y="247" width="5.3" height="6.1" fill="#fff"/><rect x="482.02" y="253.1" width="5.3" height="6.1" fill="#fff"/><rect x="487.42" y="259.2" width="5.3" height="6.1" fill="#fff"/><rect x="482.02" y="265.3" width="5.3" height="6.1" fill="#fff"/><rect x="487.42" y="271.4" width="5.3" height="6.1" fill="#fff"/><rect x="482.02" y="277.5" width="5.3" height="6.1" fill="#fff"/><rect x="487.42" y="283.6" width="5.3" height="6.1" fill="#fff"/><rect x="482.02" y="289.7" width="5.3" height="6.1" fill="#fff"/><rect x="487.42" y="295.8" width="5.3" height="6.1" fill="#fff"/><rect x="482.02" y="301.9" width="5.3" height="6.1" fill="#fff"/></g><rect x="481.12" y="135.43" width="11.15" height="160.77" fill="none" stroke="#000" stroke-width="1"/><line x1="486.69" y1="135.43" x2="486.69" y2="124" stroke="#000" stroke-width="1.45"/><line x1="482.69" y1="124" x2="490.69" y2="124" stroke="#000" stroke-width="1.45"/><clipPath id="c17"><rect x="492.27" y="135.43" width="11.15" height="160.77"/></clipPath><g clip-path="url(#c17)"><rect x="492.27" y="135.43" width="11.15" height="160.77" fill="#000"/><rect x="494.27" y="125.5" width="7.3" height="3.2" fill="#fff"/><rect x="493.37" y="131.1" width="5.1" height="3.2" fill="#fff"/><rect x="500.17" y="131.1" width="1.6" height="3.2" fill="#fff"/><rect x="494.27" y="136.7" width="7.3" height="3.2" fill="#fff"/><rect x="493.37" y="142.3" width="5.1" height="3.2" fill="#fff"/><rect x="500.17" y="142.3" width="1.6" height="3.2" fill="#fff"/><rect x="494.27" y="147.9" width="7.3" height="3.2" fill="#fff"/><rect x="493.37" y="153.5" width="5.1" height="3.2" fill="#fff"/><rect x="500.17" y="153.5" width="1.6" height="3.2" fill="#fff"/><rect x="494.27" y="159.1" width="7.3" height="3.2" fill="#fff"/><rect x="493.37" y="164.7" width="5.1" height="3.2" fill="#fff"/><rect x="500.17" y="164.7" width="1.6" height="3.2" fill="#fff"/><rect x="494.27" y="170.3" width="7.3" height="3.2" fill="#fff"/><rect x="493.37" y="175.9" width="5.1" height="3.2" fill="#fff"/><rect x="500.17" y="175.9" width="1.6" height="3.2" fill="#fff"/><rect x="494.27" y="181.5" width="7.3" height="3.2" fill="#fff"/><rect x="493.37" y="187.1" width="5.1" height="3.2" fill="#fff"/><rect x="500.17" y="187.1" width="1.6" height="3.2" fill="#fff"/><rect x="494.27" y="192.7" width="7.3" height="3.2" fill="#fff"/><rect x="493.37" y="198.3" width="5.1" height="3.2" fill="#fff"/><rect x="500.17" y="198.3" width="1.6" height="3.2" fill="#fff"/><rect x="494.27" y="203.9" width="7.3" height="3.2" fill="#fff"/><rect x="493.37" y="209.5" width="5.1" height="3.2" fill="#fff"/><rect x="500.17" y="209.5" width="1.6" height="3.2" fill="#fff"/><rect x="494.27" y="215.1" width="7.3" height="3.2" fill="#fff"/><rect x="493.37" y="220.7" width="5.1" height="3.2" fill="#fff"/><rect x="500.17" y="220.7" width="1.6" height="3.2" fill="#fff"/><rect x="494.27" y="226.3" width="7.3" height="3.2" fill="#fff"/><rect x="493.37" y="231.9" width="5.1" height="3.2" fill="#fff"/><rect x="500.17" y="231.9" width="1.6" height="3.2" fill="#fff"/><rect x="494.27" y="237.5" width="7.3" height="3.2" fill="#fff"/><rect x="493.37" y="243.1" width="5.1" height="3.2" fill="#fff"/><rect x="500.17" y="243.1" width="1.6" height="3.2" fill="#fff"/><rect x="494.27" y="248.7" width="7.3" height="3.2" fill="#fff"/><rect x="493.37" y="254.3" width="5.1" height="3.2" fill="#fff"/><rect x="500.17" y="254.3" width="1.6" height="3.2" fill="#fff"/><rect x="494.27" y="259.9" width="7.3" height="3.2" fill="#fff"/><rect x="493.37" y="265.5" width="5.1" height="3.2" fill="#fff"/><rect x="500.17" y="265.5" width="1.6" height="3.2" fill="#fff"/><rect x="494.27" y="271.1" width="7.3" height="3.2" fill="#fff"/><rect x="493.37" y="276.7" width="5.1" height="3.2" fill="#fff"/><rect x="500.17" y="276.7" width="1.6" height="3.2" fill="#fff"/><rect x="494.27" y="282.3" width="7.3" height="3.2" fill="#fff"/><rect x="493.37" y="287.9" width="5.1" height="3.2" fill="#fff"/><rect x="500.17" y="287.9" width="1.6" height="3.2" fill="#fff"/><rect x="494.27" y="293.5" width="7.3" height="3.2" fill="#fff"/><rect x="493.37" y="299.1" width="5.1" height="3.2" fill="#fff"/><rect x="500.17" y="299.1" width="1.6" height="3.2" fill="#fff"/></g><rect x="492.27" y="135.43" width="11.15" height="160.77" fill="none" stroke="#000" stroke-width="1"/><line x1="497.85" y1="135.43" x2="497.85" y2="124" stroke="#000" stroke-width="1.45"/><line x1="493.85" y1="124" x2="501.85" y2="124" stroke="#000" stroke-width="1.45"/><rect x="509.64" y="218.91" width="11.15" height="77.29" fill="#fff" stroke="#000" stroke-width="1.5"/><line x1="515.22" y1="218.91" x2="515.22" y2="287.1" stroke="#000" stroke-width="1.45"/><line x1="511.22" y1="287.1" x2="519.22" y2="287.1" stroke="#000" stroke-width="1.45"/><rect x="520.79" y="202.84" width="11.15" height="93.36" fill="#000" stroke="#000" stroke-width="1"/><line x1="526.37" y1="202.84" x2="526.37" y2="190.63" stroke="#000" stroke-width="1.45"/><line x1="522.37" y1="190.63" x2="530.37" y2="190.63" stroke="#000" stroke-width="1.45"/><rect x="531.94" y="201.48" width="11.15" height="94.72" fill="#939393" stroke="#000" stroke-width="1"/><line x1="537.51" y1="201.48" x2="537.51" y2="158.67" stroke="#000" stroke-width="1.45"/><line x1="533.51" y1="158.67" x2="541.51" y2="158.67" stroke="#000" stroke-width="1.45"/><clipPath id="c23"><rect x="543.09" y="202.06" width="11.15" height="94.14"/></clipPath><g clip-path="url(#c23)"><rect x="543.09" y="202.06" width="11.15" height="94.14" fill="#fff"/><path d="M543.09 183.93L554.24 193.23M543.09 194.07L554.24 184.77M543.09 193.23L554.24 202.53M543.09 203.37L554.24 194.07M543.09 202.53L554.24 211.83M543.09 212.67L554.24 203.37M543.09 211.83L554.24 221.13M543.09 221.97L554.24 212.67M543.09 221.13L554.24 230.43M543.09 231.27L554.24 221.97M543.09 230.43L554.24 239.73M543.09 240.57L554.24 231.27M543.09 239.73L554.24 249.03M543.09 249.87L554.24 240.57M543.09 249.03L554.24 258.33M543.09 259.17L554.24 249.87M543.09 258.33L554.24 267.63M543.09 268.47L554.24 259.17M543.09 267.63L554.24 276.93M543.09 277.77L554.24 268.47M543.09 276.93L554.24 286.23M543.09 287.07L554.24 277.77M543.09 286.23L554.24 295.53M543.09 296.37L554.24 287.07M543.09 295.53L554.24 304.83M543.09 305.67L554.24 296.37" stroke="#000" stroke-width="1.6" fill="none"/></g><rect x="543.09" y="202.06" width="11.15" height="94.14" fill="none" stroke="#000" stroke-width="1"/><line x1="548.67" y1="202.06" x2="548.67" y2="191.02" stroke="#000" stroke-width="1.45"/><line x1="544.67" y1="191.02" x2="552.67" y2="191.02" stroke="#000" stroke-width="1.45"/><clipPath id="c24"><rect x="554.24" y="200.9" width="11.15" height="95.3"/></clipPath><g clip-path="url(#c24)"><rect x="554.24" y="200.9" width="11.15" height="95.3" fill="#000"/><rect x="555.74" y="190.9" width="7.95" height="3.2" fill="#fff"/><rect x="555.74" y="197.2" width="7.95" height="3.2" fill="#fff"/><rect x="555.74" y="203.5" width="7.95" height="3.2" fill="#fff"/><rect x="555.74" y="209.8" width="7.95" height="3.2" fill="#fff"/><rect x="555.74" y="216.1" width="7.95" height="3.2" fill="#fff"/><rect x="555.74" y="222.4" width="7.95" height="3.2" fill="#fff"/><rect x="555.74" y="228.7" width="7.95" height="3.2" fill="#fff"/><rect x="555.74" y="235" width="7.95" height="3.2" fill="#fff"/><rect x="555.74" y="241.3" width="7.95" height="3.2" fill="#fff"/><rect x="555.74" y="247.6" width="7.95" height="3.2" fill="#fff"/><rect x="555.74" y="253.9" width="7.95" height="3.2" fill="#fff"/><rect x="555.74" y="260.2" width="7.95" height="3.2" fill="#fff"/><rect x="555.74" y="266.5" width="7.95" height="3.2" fill="#fff"/><rect x="555.74" y="272.8" width="7.95" height="3.2" fill="#fff"/><rect x="555.74" y="279.1" width="7.95" height="3.2" fill="#fff"/><rect x="555.74" y="285.4" width="7.95" height="3.2" fill="#fff"/><rect x="555.74" y="291.7" width="7.95" height="3.2" fill="#fff"/><rect x="555.74" y="298" width="7.95" height="3.2" fill="#fff"/></g><rect x="554.24" y="200.9" width="11.15" height="95.3" fill="none" stroke="#000" stroke-width="1"/><line x1="559.82" y1="200.9" x2="559.82" y2="174.56" stroke="#000" stroke-width="1.45"/><line x1="555.82" y1="174.56" x2="563.82" y2="174.56" stroke="#000" stroke-width="1.45"/><clipPath id="c25"><rect x="565.39" y="202.06" width="11.15" height="94.14"/></clipPath><g clip-path="url(#c25)"><rect x="565.39" y="202.06" width="11.15" height="94.14" fill="#fff"/><rect x="565.39" y="202.06" width="2.5" height="94.14" fill="#000"/><rect x="571.19" y="202.06" width="2.4" height="94.14" fill="#000"/><rect x="575.79" y="202.06" width="1" height="94.14" fill="#000"/></g><rect x="565.39" y="202.06" width="11.15" height="94.14" fill="none" stroke="#000" stroke-width="1"/><line x1="570.97" y1="202.06" x2="570.97" y2="190.63" stroke="#000" stroke-width="1.45"/><line x1="566.97" y1="190.63" x2="574.97" y2="190.63" stroke="#000" stroke-width="1.45"/><clipPath id="c26"><rect x="576.54" y="202.06" width="11.15" height="94.14"/></clipPath><g clip-path="url(#c26)"><rect x="576.54" y="202.06" width="11.15" height="94.14" fill="#000"/><rect x="577.44" y="192.1" width="5.3" height="6.1" fill="#fff"/><rect x="582.84" y="198.2" width="5.3" height="6.1" fill="#fff"/><rect x="577.44" y="204.3" width="5.3" height="6.1" fill="#fff"/><rect x="582.84" y="210.4" width="5.3" height="6.1" fill="#fff"/><rect x="577.44" y="216.5" width="5.3" height="6.1" fill="#fff"/><rect x="582.84" y="222.6" width="5.3" height="6.1" fill="#fff"/><rect x="577.44" y="228.7" width="5.3" height="6.1" fill="#fff"/><rect x="582.84" y="234.8" width="5.3" height="6.1" fill="#fff"/><rect x="577.44" y="240.9" width="5.3" height="6.1" fill="#fff"/><rect x="582.84" y="247" width="5.3" height="6.1" fill="#fff"/><rect x="577.44" y="253.1" width="5.3" height="6.1" fill="#fff"/><rect x="582.84" y="259.2" width="5.3" height="6.1" fill="#fff"/><rect x="577.44" y="265.3" width="5.3" height="6.1" fill="#fff"/><rect x="582.84" y="271.4" width="5.3" height="6.1" fill="#fff"/><rect x="577.44" y="277.5" width="5.3" height="6.1" fill="#fff"/><rect x="582.84" y="283.6" width="5.3" height="6.1" fill="#fff"/><rect x="577.44" y="289.7" width="5.3" height="6.1" fill="#fff"/><rect x="582.84" y="295.8" width="5.3" height="6.1" fill="#fff"/><rect x="577.44" y="301.9" width="5.3" height="6.1" fill="#fff"/></g><rect x="576.54" y="202.06" width="11.15" height="94.14" fill="none" stroke="#000" stroke-width="1"/><line x1="582.12" y1="202.06" x2="582.12" y2="190.63" stroke="#000" stroke-width="1.45"/><line x1="578.12" y1="190.63" x2="586.12" y2="190.63" stroke="#000" stroke-width="1.45"/><clipPath id="c27"><rect x="587.69" y="202.06" width="11.15" height="94.14"/></clipPath><g clip-path="url(#c27)"><rect x="587.69" y="202.06" width="11.15" height="94.14" fill="#000"/><rect x="589.69" y="192.7" width="7.3" height="3.2" fill="#fff"/><rect x="588.79" y="198.3" width="5.1" height="3.2" fill="#fff"/><rect x="595.59" y="198.3" width="1.6" height="3.2" fill="#fff"/><rect x="589.69" y="203.9" width="7.3" height="3.2" fill="#fff"/><rect x="588.79" y="209.5" width="5.1" height="3.2" fill="#fff"/><rect x="595.59" y="209.5" width="1.6" height="3.2" fill="#fff"/><rect x="589.69" y="215.1" width="7.3" height="3.2" fill="#fff"/><rect x="588.79" y="220.7" width="5.1" height="3.2" fill="#fff"/><rect x="595.59" y="220.7" width="1.6" height="3.2" fill="#fff"/><rect x="589.69" y="226.3" width="7.3" height="3.2" fill="#fff"/><rect x="588.79" y="231.9" width="5.1" height="3.2" fill="#fff"/><rect x="595.59" y="231.9" width="1.6" height="3.2" fill="#fff"/><rect x="589.69" y="237.5" width="7.3" height="3.2" fill="#fff"/><rect x="588.79" y="243.1" width="5.1" height="3.2" fill="#fff"/><rect x="595.59" y="243.1" width="1.6" height="3.2" fill="#fff"/><rect x="589.69" y="248.7" width="7.3" height="3.2" fill="#fff"/><rect x="588.79" y="254.3" width="5.1" height="3.2" fill="#fff"/><rect x="595.59" y="254.3" width="1.6" height="3.2" fill="#fff"/><rect x="589.69" y="259.9" width="7.3" height="3.2" fill="#fff"/><rect x="588.79" y="265.5" width="5.1" height="3.2" fill="#fff"/><rect x="595.59" y="265.5" width="1.6" height="3.2" fill="#fff"/><rect x="589.69" y="271.1" width="7.3" height="3.2" fill="#fff"/><rect x="588.79" y="276.7" width="5.1" height="3.2" fill="#fff"/><rect x="595.59" y="276.7" width="1.6" height="3.2" fill="#fff"/><rect x="589.69" y="282.3" width="7.3" height="3.2" fill="#fff"/><rect x="588.79" y="287.9" width="5.1" height="3.2" fill="#fff"/><rect x="595.59" y="287.9" width="1.6" height="3.2" fill="#fff"/><rect x="589.69" y="293.5" width="7.3" height="3.2" fill="#fff"/><rect x="588.79" y="299.1" width="5.1" height="3.2" fill="#fff"/><rect x="595.59" y="299.1" width="1.6" height="3.2" fill="#fff"/></g><rect x="587.69" y="202.06" width="11.15" height="94.14" fill="none" stroke="#000" stroke-width="1"/><line x1="593.26" y1="202.06" x2="593.26" y2="190.63" stroke="#000" stroke-width="1.45"/><line x1="589.26" y1="190.63" x2="597.26" y2="190.63" stroke="#000" stroke-width="1.45"/><rect x="605.06" y="116.64" width="11.15" height="179.56" fill="#fff" stroke="#000" stroke-width="1.5"/><line x1="610.64" y1="116.64" x2="610.64" y2="271.21" stroke="#000" stroke-width="1.45"/><line x1="606.64" y1="271.21" x2="614.64" y2="271.21" stroke="#000" stroke-width="1.45"/><rect x="616.21" y="230.34" width="11.15" height="65.86" fill="#000" stroke="#000" stroke-width="1"/><line x1="621.79" y1="230.34" x2="621.79" y2="220.46" stroke="#000" stroke-width="1.45"/><line x1="617.79" y1="220.46" x2="625.79" y2="220.46" stroke="#000" stroke-width="1.45"/><rect x="627.36" y="232.28" width="11.15" height="63.92" fill="#939393" stroke="#000" stroke-width="1"/><line x1="632.94" y1="232.28" x2="632.94" y2="222.98" stroke="#000" stroke-width="1.45"/><line x1="628.94" y1="222.98" x2="636.94" y2="222.98" stroke="#000" stroke-width="1.45"/><clipPath id="c33"><rect x="638.51" y="232.28" width="11.15" height="63.92"/></clipPath><g clip-path="url(#c33)"><rect x="638.51" y="232.28" width="11.15" height="63.92" fill="#fff"/><path d="M638.51 211.83L649.66 221.13M638.51 221.97L649.66 212.67M638.51 221.13L649.66 230.43M638.51 231.27L649.66 221.97M638.51 230.43L649.66 239.73M638.51 240.57L649.66 231.27M638.51 239.73L649.66 249.03M638.51 249.87L649.66 240.57M638.51 249.03L649.66 258.33M638.51 259.17L649.66 249.87M638.51 258.33L649.66 267.63M638.51 268.47L649.66 259.17M638.51 267.63L649.66 276.93M638.51 277.77L649.66 268.47M638.51 276.93L649.66 286.23M638.51 287.07L649.66 277.77M638.51 286.23L649.66 295.53M638.51 296.37L649.66 287.07M638.51 295.53L649.66 304.83M638.51 305.67L649.66 296.37" stroke="#000" stroke-width="1.6" fill="none"/></g><rect x="638.51" y="232.28" width="11.15" height="63.92" fill="none" stroke="#000" stroke-width="1"/><line x1="644.09" y1="232.28" x2="644.09" y2="224.92" stroke="#000" stroke-width="1.45"/><line x1="640.09" y1="224.92" x2="648.09" y2="224.92" stroke="#000" stroke-width="1.45"/><clipPath id="c34"><rect x="649.66" y="230.73" width="11.15" height="65.47"/></clipPath><g clip-path="url(#c34)"><rect x="649.66" y="230.73" width="11.15" height="65.47" fill="#000"/><rect x="651.16" y="222.4" width="7.95" height="3.2" fill="#fff"/><rect x="651.16" y="228.7" width="7.95" height="3.2" fill="#fff"/><rect x="651.16" y="235" width="7.95" height="3.2" fill="#fff"/><rect x="651.16" y="241.3" width="7.95" height="3.2" fill="#fff"/><rect x="651.16" y="247.6" width="7.95" height="3.2" fill="#fff"/><rect x="651.16" y="253.9" width="7.95" height="3.2" fill="#fff"/><rect x="651.16" y="260.2" width="7.95" height="3.2" fill="#fff"/><rect x="651.16" y="266.5" width="7.95" height="3.2" fill="#fff"/><rect x="651.16" y="272.8" width="7.95" height="3.2" fill="#fff"/><rect x="651.16" y="279.1" width="7.95" height="3.2" fill="#fff"/><rect x="651.16" y="285.4" width="7.95" height="3.2" fill="#fff"/><rect x="651.16" y="291.7" width="7.95" height="3.2" fill="#fff"/><rect x="651.16" y="298" width="7.95" height="3.2" fill="#fff"/></g><rect x="649.66" y="230.73" width="11.15" height="65.47" fill="none" stroke="#000" stroke-width="1"/><line x1="655.24" y1="230.73" x2="655.24" y2="222.79" stroke="#000" stroke-width="1.45"/><line x1="651.24" y1="222.79" x2="659.24" y2="222.79" stroke="#000" stroke-width="1.45"/><clipPath id="c35"><rect x="660.81" y="231.7" width="11.15" height="64.5"/></clipPath><g clip-path="url(#c35)"><rect x="660.81" y="231.7" width="11.15" height="64.5" fill="#fff"/><rect x="660.81" y="231.7" width="2.5" height="64.5" fill="#000"/><rect x="666.61" y="231.7" width="2.4" height="64.5" fill="#000"/><rect x="671.21" y="231.7" width="1" height="64.5" fill="#000"/></g><rect x="660.81" y="231.7" width="11.15" height="64.5" fill="none" stroke="#000" stroke-width="1"/><line x1="666.39" y1="231.7" x2="666.39" y2="224.34" stroke="#000" stroke-width="1.45"/><line x1="662.39" y1="224.34" x2="670.39" y2="224.34" stroke="#000" stroke-width="1.45"/><clipPath id="c36"><rect x="671.96" y="230.73" width="11.15" height="65.47"/></clipPath><g clip-path="url(#c36)"><rect x="671.96" y="230.73" width="11.15" height="65.47" fill="#000"/><rect x="678.26" y="222.6" width="5.3" height="6.1" fill="#fff"/><rect x="672.86" y="228.7" width="5.3" height="6.1" fill="#fff"/><rect x="678.26" y="234.8" width="5.3" height="6.1" fill="#fff"/><rect x="672.86" y="240.9" width="5.3" height="6.1" fill="#fff"/><rect x="678.26" y="247" width="5.3" height="6.1" fill="#fff"/><rect x="672.86" y="253.1" width="5.3" height="6.1" fill="#fff"/><rect x="678.26" y="259.2" width="5.3" height="6.1" fill="#fff"/><rect x="672.86" y="265.3" width="5.3" height="6.1" fill="#fff"/><rect x="678.26" y="271.4" width="5.3" height="6.1" fill="#fff"/><rect x="672.86" y="277.5" width="5.3" height="6.1" fill="#fff"/><rect x="678.26" y="283.6" width="5.3" height="6.1" fill="#fff"/><rect x="672.86" y="289.7" width="5.3" height="6.1" fill="#fff"/><rect x="678.26" y="295.8" width="5.3" height="6.1" fill="#fff"/><rect x="672.86" y="301.9" width="5.3" height="6.1" fill="#fff"/></g><rect x="671.96" y="230.73" width="11.15" height="65.47" fill="none" stroke="#000" stroke-width="1"/><line x1="677.54" y1="230.73" x2="677.54" y2="222.79" stroke="#000" stroke-width="1.45"/><line x1="673.54" y1="222.79" x2="681.54" y2="222.79" stroke="#000" stroke-width="1.45"/><clipPath id="c37"><rect x="683.11" y="230.73" width="11.15" height="65.47"/></clipPath><g clip-path="url(#c37)"><rect x="683.11" y="230.73" width="11.15" height="65.47" fill="#000"/><rect x="684.21" y="220.7" width="5.1" height="3.2" fill="#fff"/><rect x="691.01" y="220.7" width="1.6" height="3.2" fill="#fff"/><rect x="685.11" y="226.3" width="7.3" height="3.2" fill="#fff"/><rect x="684.21" y="231.9" width="5.1" height="3.2" fill="#fff"/><rect x="691.01" y="231.9" width="1.6" height="3.2" fill="#fff"/><rect x="685.11" y="237.5" width="7.3" height="3.2" fill="#fff"/><rect x="684.21" y="243.1" width="5.1" height="3.2" fill="#fff"/><rect x="691.01" y="243.1" width="1.6" height="3.2" fill="#fff"/><rect x="685.11" y="248.7" width="7.3" height="3.2" fill="#fff"/><rect x="684.21" y="254.3" width="5.1" height="3.2" fill="#fff"/><rect x="691.01" y="254.3" width="1.6" height="3.2" fill="#fff"/><rect x="685.11" y="259.9" width="7.3" height="3.2" fill="#fff"/><rect x="684.21" y="265.5" width="5.1" height="3.2" fill="#fff"/><rect x="691.01" y="265.5" width="1.6" height="3.2" fill="#fff"/><rect x="685.11" y="271.1" width="7.3" height="3.2" fill="#fff"/><rect x="684.21" y="276.7" width="5.1" height="3.2" fill="#fff"/><rect x="691.01" y="276.7" width="1.6" height="3.2" fill="#fff"/><rect x="685.11" y="282.3" width="7.3" height="3.2" fill="#fff"/><rect x="684.21" y="287.9" width="5.1" height="3.2" fill="#fff"/><rect x="691.01" y="287.9" width="1.6" height="3.2" fill="#fff"/><rect x="685.11" y="293.5" width="7.3" height="3.2" fill="#fff"/><rect x="684.21" y="299.1" width="5.1" height="3.2" fill="#fff"/><rect x="691.01" y="299.1" width="1.6" height="3.2" fill="#fff"/></g><rect x="683.11" y="230.73" width="11.15" height="65.47" fill="none" stroke="#000" stroke-width="1"/><line x1="688.69" y1="230.73" x2="688.69" y2="222.79" stroke="#000" stroke-width="1.45"/><line x1="684.69" y1="222.79" x2="692.69" y2="222.79" stroke="#000" stroke-width="1.45"/><rect x="700.48" y="135.43" width="11.15" height="160.77" fill="#fff" stroke="#000" stroke-width="1.5"/><line x1="706.06" y1="135.43" x2="706.06" y2="255.14" stroke="#000" stroke-width="1.45"/><line x1="702.06" y1="255.14" x2="710.06" y2="255.14" stroke="#000" stroke-width="1.45"/><rect x="711.63" y="296.2" width="11.15" height="6" fill="#000" stroke="#000" stroke-width="1"/><line x1="717.21" y1="302.2" x2="717.21" y2="290.2" stroke="#000" stroke-width="1.45"/><line x1="713.21" y1="290.2" x2="721.21" y2="290.2" stroke="#000" stroke-width="1.45"/><rect x="722.78" y="296.2" width="11.15" height="6" fill="#939393" stroke="#000" stroke-width="1"/><line x1="728.36" y1="302.2" x2="728.36" y2="288.45" stroke="#000" stroke-width="1.45"/><line x1="724.36" y1="288.45" x2="732.36" y2="288.45" stroke="#000" stroke-width="1.45"/><clipPath id="c43"><rect x="733.93" y="296.2" width="11.15" height="6"/></clipPath><g clip-path="url(#c43)"><rect x="733.93" y="296.2" width="11.15" height="6" fill="#fff"/><path d="M733.93 276.93L745.08 286.23M733.93 287.07L745.08 277.77M733.93 286.23L745.08 295.53M733.93 296.37L745.08 287.07M733.93 295.53L745.08 304.83M733.93 305.67L745.08 296.37M733.93 304.83L745.08 314.13M733.93 314.97L745.08 305.67" stroke="#000" stroke-width="1.6" fill="none"/></g><rect x="733.93" y="296.2" width="11.15" height="6" fill="none" stroke="#000" stroke-width="1"/><line x1="739.51" y1="302.2" x2="739.51" y2="292.91" stroke="#000" stroke-width="1.45"/><line x1="735.51" y1="292.91" x2="743.51" y2="292.91" stroke="#000" stroke-width="1.45"/><clipPath id="c44"><rect x="745.08" y="296.2" width="11.15" height="6"/></clipPath><g clip-path="url(#c44)"><rect x="745.08" y="296.2" width="11.15" height="6" fill="#000"/><rect x="746.58" y="285.4" width="7.95" height="3.2" fill="#fff"/><rect x="746.58" y="291.7" width="7.95" height="3.2" fill="#fff"/><rect x="746.58" y="298" width="7.95" height="3.2" fill="#fff"/><rect x="746.58" y="304.3" width="7.95" height="3.2" fill="#fff"/></g><rect x="745.08" y="296.2" width="11.15" height="6" fill="none" stroke="#000" stroke-width="1"/><line x1="750.66" y1="302.2" x2="750.66" y2="290.2" stroke="#000" stroke-width="1.45"/><line x1="746.66" y1="290.2" x2="754.66" y2="290.2" stroke="#000" stroke-width="1.45"/><clipPath id="c45"><rect x="756.23" y="296.2" width="11.15" height="6"/></clipPath><g clip-path="url(#c45)"><rect x="756.23" y="296.2" width="11.15" height="6" fill="#fff"/><rect x="756.23" y="296.2" width="2.5" height="6" fill="#000"/><rect x="762.03" y="296.2" width="2.4" height="6" fill="#000"/><rect x="766.63" y="296.2" width="1" height="6" fill="#000"/></g><rect x="756.23" y="296.2" width="11.15" height="6" fill="none" stroke="#000" stroke-width="1"/><line x1="761.81" y1="302.2" x2="761.81" y2="292.91" stroke="#000" stroke-width="1.45"/><line x1="757.81" y1="292.91" x2="765.81" y2="292.91" stroke="#000" stroke-width="1.45"/><clipPath id="c46"><rect x="767.38" y="296.2" width="11.15" height="6"/></clipPath><g clip-path="url(#c46)"><rect x="767.38" y="296.2" width="11.15" height="6" fill="#000"/><rect x="768.28" y="289.7" width="5.3" height="6.1" fill="#fff"/><rect x="773.68" y="295.8" width="5.3" height="6.1" fill="#fff"/><rect x="768.28" y="301.9" width="5.3" height="6.1" fill="#fff"/><rect x="773.68" y="308" width="5.3" height="6.1" fill="#fff"/></g><rect x="767.38" y="296.2" width="11.15" height="6" fill="none" stroke="#000" stroke-width="1"/><line x1="772.96" y1="302.2" x2="772.96" y2="292.91" stroke="#000" stroke-width="1.45"/><line x1="768.96" y1="292.91" x2="776.96" y2="292.91" stroke="#000" stroke-width="1.45"/><clipPath id="c47"><rect x="778.53" y="296.2" width="11.15" height="6"/></clipPath><g clip-path="url(#c47)"><rect x="778.53" y="296.2" width="11.15" height="6" fill="#000"/><rect x="779.63" y="287.9" width="5.1" height="3.2" fill="#fff"/><rect x="786.43" y="287.9" width="1.6" height="3.2" fill="#fff"/><rect x="780.53" y="293.5" width="7.3" height="3.2" fill="#fff"/><rect x="779.63" y="299.1" width="5.1" height="3.2" fill="#fff"/><rect x="786.43" y="299.1" width="1.6" height="3.2" fill="#fff"/><rect x="780.53" y="304.7" width="7.3" height="3.2" fill="#fff"/></g><rect x="778.53" y="296.2" width="11.15" height="6" fill="none" stroke="#000" stroke-width="1"/><line x1="784.11" y1="302.2" x2="784.11" y2="292.91" stroke="#000" stroke-width="1.45"/><line x1="780.11" y1="292.91" x2="788.11" y2="292.91" stroke="#000" stroke-width="1.45"/><line x1="315.8" y1="25.02" x2="315.8" y2="334.94" stroke="#949494" stroke-width="1.9"/><line x1="310.7" y1="334.94" x2="315.7" y2="334.94" stroke="#949494" stroke-width="1.5"/><line x1="310.7" y1="296.2" x2="315.7" y2="296.2" stroke="#949494" stroke-width="1.5"/><line x1="310.7" y1="257.46" x2="315.7" y2="257.46" stroke="#949494" stroke-width="1.5"/><line x1="310.7" y1="218.72" x2="315.7" y2="218.72" stroke="#949494" stroke-width="1.5"/><line x1="310.7" y1="179.98" x2="315.7" y2="179.98" stroke="#949494" stroke-width="1.5"/><line x1="310.7" y1="141.24" x2="315.7" y2="141.24" stroke="#949494" stroke-width="1.5"/><line x1="310.7" y1="102.5" x2="315.7" y2="102.5" stroke="#949494" stroke-width="1.5"/><line x1="310.7" y1="63.76" x2="315.7" y2="63.76" stroke="#949494" stroke-width="1.5"/><line x1="310.7" y1="25.02" x2="315.7" y2="25.02" stroke="#949494" stroke-width="1.5"/><line x1="315.7" y1="296.6" x2="792.8" y2="296.6" stroke="#949494" stroke-width="1.8"/><line x1="411.12" y1="296.2" x2="411.12" y2="302.2" stroke="#949494" stroke-width="1.5"/><line x1="506.54" y1="296.2" x2="506.54" y2="302.2" stroke="#949494" stroke-width="1.5"/><line x1="601.96" y1="296.2" x2="601.96" y2="302.2" stroke="#949494" stroke-width="1.5"/><line x1="697.38" y1="296.2" x2="697.38" y2="302.2" stroke="#949494" stroke-width="1.5"/><line x1="792.8" y1="296.2" x2="792.8" y2="302.2" stroke="#949494" stroke-width="1.5"/><text x="299" y="341.44" text-anchor="end" font-size="15.5">-2</text><text x="299" y="302.7" text-anchor="end" font-size="15.5">0</text><text x="299" y="263.96" text-anchor="end" font-size="15.5">2</text><text x="299" y="225.22" text-anchor="end" font-size="15.5">4</text><text x="299" y="186.48" text-anchor="end" font-size="15.5">6</text><text x="299" y="147.74" text-anchor="end" font-size="15.5">8</text><text x="299" y="109" text-anchor="end" font-size="15.5">10</text><text x="299" y="70.26" text-anchor="end" font-size="15.5">12</text><text x="299" y="31.52" text-anchor="end" font-size="15.5">14</text><text x="363.68" y="325.7" text-anchor="middle" font-size="15" letter-spacing="0.55">dextrose</text><text x="458.83" y="325.7" text-anchor="middle" font-size="15" letter-spacing="0">20% GAG</text><text x="554.25" y="325.7" text-anchor="middle" font-size="15" letter-spacing="0">10% GAG</text><text x="649.67" y="325.7" text-anchor="middle" font-size="15" letter-spacing="0">BNC</text><text x="745.29" y="325.7" text-anchor="middle" font-size="15" letter-spacing="0.4">saline</text><text x="254" y="29.3" font-size="21" letter-spacing="1.6">f)</text><text transform="translate(274.6,253.6) rotate(-90)" font-size="16" font-weight="bold" textLength="57" lengthAdjust="spacingAndGlyphs">Average</text><text transform="translate(274.6,191.4) rotate(-90)" font-size="16" font-weight="bold" textLength="33.2" lengthAdjust="spacingAndGlyphs">MTR</text><text transform="translate(277.6,157.9) rotate(-90)" font-size="10.8" font-weight="bold" textLength="24.1" lengthAdjust="spacingAndGlyphs">asym</text><text transform="translate(273.2,129.8) rotate(-90)" font-size="15" font-weight="bold" textLength="24.2" lengthAdjust="spacingAndGlyphs">[%]</text>
</svg>
</body></html>
